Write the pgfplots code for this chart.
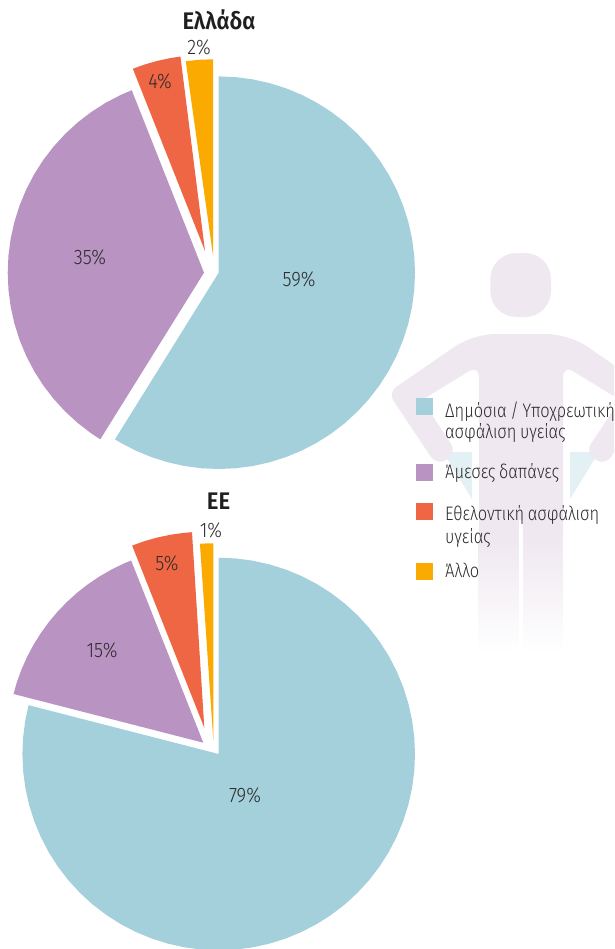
\documentclass[border=0pt]{standalone}
\usepackage{pgfplots}
\pgfplotsset{compat=1.18}
\usepackage{fontspec}
\setmainfont{Fira Sans Light}
\newfontfamily\titlefont[FakeStretch=0.92]{Fira Sans SemiBold}
\newfontfamily\pctfont[FakeStretch=0.88]{Fira Sans Light}
\newfontfamily\legfont[FakeStretch=0.84,WordSpace=0.8]{Fira Sans Light}
\definecolor{cblue}{HTML}{A3D0DB}
\definecolor{cpurple}{HTML}{B994C2}
\definecolor{cred}{HTML}{EE6644}
\definecolor{cyellow}{HTML}{FAAA00}
\definecolor{lav}{HTML}{EFE8F0}
\definecolor{tri}{HTML}{E3F0F4}
\definecolor{txt}{HTML}{2B2B2B}
\begin{document}
\begin{tikzpicture}
\useasboundingbox (0,0) rectangle (614pt,949pt);
\begin{axis}[
  scale only axis, width=614pt, height=949pt,
  xmin=0, xmax=614, ymin=0, ymax=949, y dir=reverse,
  hide axis, clip=true,
  nodes={text=txt}
]
% decorative figure behind the charts
\fill[tri] (axis cs:443,452) -- (axis cs:472,452) -- (axis cs:472,499) -- cycle;
\fill[tri] (axis cs:599,452) -- (axis cs:570,452) -- (axis cs:570,499) -- cycle;
\fill[lav, rounded corners=26pt] (axis cs:490.3,253) rectangle (axis cs:551,317);
\fill[lav] (axis cs:521,334)
  [rounded corners=22pt] -- (axis cs:473,334)
  [rounded corners=10pt] -- (axis cs:388,392.6)
  [rounded corners=11pt] -- (axis cs:437,466) -- (axis cs:457,452.7)
  [rounded corners=3pt] -- (axis cs:422,400)
  [rounded corners=12pt] -- (axis cs:479,365)
  [sharp corners] -- (axis cs:479,540) -- (axis cs:563,540)
  [rounded corners=12pt] -- (axis cs:563,365)
  [rounded corners=3pt] -- (axis cs:620,400)
  [rounded corners=11pt] -- (axis cs:585,452.7) -- (axis cs:605,466)
  [rounded corners=10pt] -- (axis cs:654,392.6)
  [rounded corners=22pt] -- (axis cs:569,334)
  [sharp corners] -- cycle;
\shade[top color=lav, bottom color=white] (axis cs:478.7,540) rectangle (axis cs:518.7,652);
\shade[top color=lav, bottom color=white] (axis cs:523.3,540) rectangle (axis cs:562.7,652);
\fill[white] (axis cs:519,520) rectangle (axis cs:523,540);

% Ελλάδα: 59, 35, 4, 2
\addplot[fill=cblue, draw=none, data cs=polar, shift={(218.7pt,-272.7pt)}] coordinates {
(0,0) (-90,196.3) (-85,196.3) (-80,196.3) (-75,196.3) (-70,196.3) (-65,196.3) (-60,196.3) (-55,196.3) (-50,196.3) (-45,196.3) (-40,196.3) (-35,196.3) (-30,196.3) (-25,196.3) (-20,196.3) (-15,196.3) (-10,196.3) (-5,196.3) (0,196.3) (5,196.3) (10,196.3) (15,196.3) (20,196.3) (25,196.3) (30,196.3) (35,196.3) (40,196.3) (45,196.3) (50,196.3) (55,196.3) (60,196.3) (65,196.3) (70,196.3) (75,196.3) (80,196.3) (85,196.3) (90,196.3) (95,196.3) (100,196.3) (105,196.3) (110,196.3) (115,196.3) (120,196.3) (121.9,196.3)
} -- cycle;
\addplot[fill=cpurple, draw=none, data cs=polar, shift={(204pt,-272.7pt)}] coordinates {
(0,0) (121.9,196.3) (125,196.3) (130,196.3) (135,196.3) (140,196.3) (145,196.3) (150,196.3) (155,196.3) (160,196.3) (165,196.3) (170,196.3) (175,196.3) (180,196.3) (185,196.3) (190,196.3) (195,196.3) (200,196.3) (205,196.3) (210,196.3) (215,196.3) (220,196.3) (225,196.3) (230,196.3) (235,196.3) (240,196.3) (245,196.3) (248.4,196.3)
} -- cycle;
\addplot[fill=cred, draw=none, data cs=polar, shift={(205pt,-251pt)}] coordinates {
(0,0) (248.4,196) (252,196) (256,196) (260,196) (262.8,196)
} -- cycle;
\addplot[fill=cyellow, draw=none, data cs=polar, shift={(213pt,-255.3pt)}] coordinates {
(0,0) (262,196) (266,196) (270,196)
} -- cycle;

% ΕΕ: 79, 15, 5, 1
\addplot[fill=cblue, draw=none, data cs=polar, shift={(218.7pt,-754pt)}] coordinates {
(0,0) (-90,196.3) (-85,196.3) (-80,196.3) (-75,196.3) (-70,196.3) (-65,196.3) (-60,196.3) (-55,196.3) (-50,196.3) (-45,196.3) (-40,196.3) (-35,196.3) (-30,196.3) (-25,196.3) (-20,196.3) (-15,196.3) (-10,196.3) (-5,196.3) (0,196.3) (5,196.3) (10,196.3) (15,196.3) (20,196.3) (25,196.3) (30,196.3) (35,196.3) (40,196.3) (45,196.3) (50,196.3) (55,196.3) (60,196.3) (65,196.3) (70,196.3) (75,196.3) (80,196.3) (85,196.3) (90,196.3) (95,196.3) (100,196.3) (105,196.3) (110,196.3) (115,196.3) (120,196.3) (125,196.3) (130,196.3) (135,196.3) (140,196.3) (145,196.3) (150,196.3) (155,196.3) (160,196.3) (165,196.3) (170,196.3) (175,196.3) (180,196.3) (185,196.3) (190,196.3) (194.4,196.3)
} -- cycle;
\addplot[fill=cpurple, draw=none, data cs=polar, shift={(203.3pt,-742.7pt)}] coordinates {
(0,0) (194.4,196) (198,196) (202,196) (206,196) (210,196) (214,196) (218,196) (222,196) (226,196) (230,196) (234,196) (238,196) (242,196) (246,196) (248.4,196)
} -- cycle;
\addplot[fill=cred, draw=none, data cs=polar, shift={(204.3pt,-727.8pt)}] coordinates {
(0,0) (248.4,196) (252,196) (256,196) (260,196) (264,196) (266.4,196)
} -- cycle;
\addplot[fill=cyellow, draw=none, data cs=polar, shift={(213.3pt,-740pt)}] coordinates {
(0,0) (266.1,196.7) (268,196.7) (270,196.7)
} -- cycle;

% legend swatches
\addplot[fill=cblue, draw=none] coordinates {(416,398) (433,398) (433,415) (416,415)} -- cycle;
\addplot[fill=cpurple, draw=none] coordinates {(416,464) (433,464) (433,481) (416,481)} -- cycle;
\addplot[fill=cred, draw=none] coordinates {(416,503) (433,503) (433,520) (416,520)} -- cycle;
\addplot[fill=cyellow, draw=none] coordinates {(416,563) (433,563) (433,580) (416,580)} -- cycle;

% labels
\node[font=\titlefont\fontsize{24}{26}\selectfont, text=black!88] at (axis cs:219,20) {Ελλάδα};
\node[font=\titlefont\fontsize{24}{26}\selectfont, text=black!88] at (axis cs:218.5,501) {ΕΕ};
\foreach \x/\y/\t in {199/47/2\%,160/81/4\%,90/257/35\%,299/279/59\%,211/530/1\%,167/563/5\%,102/650/15\%,245/795/79\%}{
  \edef\tmp{\noexpand\node[font=\noexpand\pctfont\noexpand\fontsize{21}{23}\noexpand\selectfont] at (axis cs:\x,\y) {\t};}\tmp
}
\node[anchor=base west, inner sep=0pt, font=\legfont\fontsize{19.5}{21}\selectfont] at (axis cs:445,417) {Δημόσια / Υποχρεωτική};
\node[anchor=base west, inner sep=0pt, font=\legfont\fontsize{19.5}{21}\selectfont] at (axis cs:445,438.5) {ασφάλιση υγείας};
\node[anchor=base west, inner sep=0pt, font=\legfont\fontsize{19.5}{21}\selectfont] at (axis cs:445,478) {Άμεσες δαπάνες};
\node[anchor=base west, inner sep=0pt, font=\legfont\fontsize{19.5}{21}\selectfont] at (axis cs:445,520) {Εθελοντική ασφάλιση};
\node[anchor=base west, inner sep=0pt, font=\legfont\fontsize{19.5}{21}\selectfont] at (axis cs:445,543) {υγείας};
\node[anchor=base west, inner sep=0pt, font=\legfont\fontsize{19.5}{21}\selectfont] at (axis cs:445,577) {Άλλο};
\end{axis}
\end{tikzpicture}
\end{document}
